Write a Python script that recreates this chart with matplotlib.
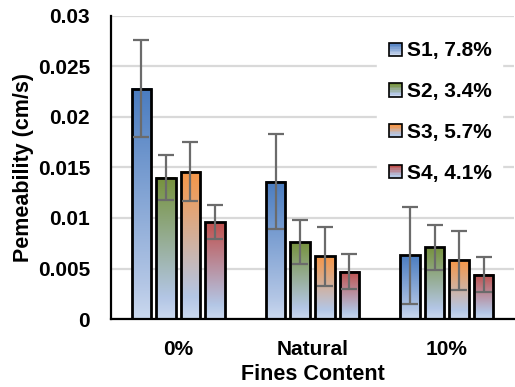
import numpy as np
import matplotlib
matplotlib.use('Agg')
import matplotlib.pyplot as plt
from matplotlib.colors import to_rgb
from matplotlib.patches import Rectangle
from matplotlib.legend_handler import HandlerBase

plt.rcParams.update({
    'font.family': ['Liberation Sans', 'DejaVu Sans'],
    'font.weight': 'bold',
    'axes.labelweight': 'bold',
})

# permeability per sample, grouped by fines content
groups = ['0%', 'Natural', '10%']
series = ['S1, 7.8%', 'S2, 3.4%', 'S3, 5.7%', 'S4, 4.1%']
s1 = [0.0228, 0.0136, 0.0063]
s2 = [0.0140, 0.0076, 0.0071]
s3 = [0.0146, 0.0062, 0.0058]
s4 = [0.0096, 0.0047, 0.0044]
s1_err = [0.0048, 0.0047, 0.0048]
s2_err = [0.0022, 0.0022, 0.0022]
s3_err = [0.0029, 0.0029, 0.0029]
s4_err = [0.0017, 0.0017, 0.0017]

values = [s1, s2, s3, s4]
errors = [s1_err, s2_err, s3_err, s4_err]
top_colors = ['#4a7cc0', '#76923c', '#f79646', '#c0504d']
MID = '#b3c6e5'
BOT = '#cbd9ef'


def gradient(top, n=256):
    """Vertical ramp: series colour at the top fading into light blue."""
    t = np.linspace(0, 1, n)[:, None]  # 0 = top, 1 = bottom
    c_top, c_mid, c_bot = map(np.array, (to_rgb(top), to_rgb(MID), to_rgb(BOT)))
    split = 0.85
    a = np.clip(t / split, 0, 1)
    b = np.clip((t - split) / (1 - split), 0, 1)
    col = c_top * (1 - a) + c_mid * a
    col = col * (1 - b) + c_bot * b
    return col[:, None, :]


class GradientHandler(HandlerBase):
    def __init__(self, top):
        super().__init__()
        self.top = top

    def create_artists(self, legend, orig_handle, xdescent, ydescent,
                       width, height, fontsize, trans):
        size = height * 0.9
        x0 = -xdescent + width - size
        y0 = -ydescent + (height - size) / 2
        ramp = gradient(self.top, 8)[:, 0, :]
        arts = []
        n = len(ramp)
        for i, c in enumerate(ramp):
            arts.append(Rectangle((x0, y0 + size * (n - 1 - i) / n), size, size / n,
                                  facecolor=c, edgecolor='none', transform=trans))
        arts.append(Rectangle((x0, y0), size, size, facecolor='none',
                              edgecolor='black', lw=1.2, transform=trans))
        return arts


fig = plt.figure(figsize=(5.15, 3.87), dpi=100)
ax = fig.add_axes([0.2155, 0.1757, 0.7825, 0.783])

x = np.arange(len(groups))
width = 0.145
step = 0.183
handles = []
for k, (vals, errs, col) in enumerate(zip(values, errors, top_colors)):
    xs = x + (k - 1.5) * step
    img = gradient(col)
    for xi, v in zip(xs, vals):
        ax.imshow(img, extent=[xi - width / 2, xi + width / 2, 0, v],
                  aspect='auto', zorder=2, interpolation='bilinear')
    bars = ax.bar(xs, vals, width, facecolor='none', edgecolor='black',
                  linewidth=2.0, zorder=3, label=series[k])
    ax.errorbar(xs, vals, yerr=errs, fmt='none', ecolor='#6b6b6b',
                elinewidth=1.6, capsize=6, capthick=1.6, zorder=4)
    handles.append(bars)

ax.set_xlim(-0.5, 2.5)
ax.set_ylim(0, 0.03)
ax.set_yticks(np.arange(0, 0.0301, 0.005))
ax.set_yticklabels(['0', '0.005', '0.01', '0.015', '0.02', '0.025', '0.03'])
ax.set_xticks(x)
ax.set_xticklabels(groups)
ax.tick_params(axis='both', length=0, labelsize=15)
ax.tick_params(axis='x', pad=15)
ax.tick_params(axis='y', pad=15)
ax.grid(axis='y', color='#d9d9d9', lw=1.6, zorder=0)
ax.set_axisbelow(True)
for s in ('top', 'right'):
    ax.spines[s].set_visible(False)
for s in ('left', 'bottom'):
    ax.spines[s].set_linewidth(1.6)

ax.set_ylabel('Pemeability (cm/s)', fontsize=15.5, labelpad=3)
ax.set_xlabel('Fines Content', fontsize=15.5, labelpad=4)

leg = ax.legend(handles, series, loc='upper right', bbox_to_anchor=(0.997, 0.985),
                frameon=True, fancybox=False, framealpha=1, edgecolor='white',
                fontsize=15, labelspacing=1.05, handlelength=0.7,
                handleheight=0.7, handletextpad=0.25, borderpad=0.5,
                handler_map={h: GradientHandler(c) for h, c in zip(handles, top_colors)})
leg.set_zorder(5)

fig.savefig('out.png', dpi=100)
